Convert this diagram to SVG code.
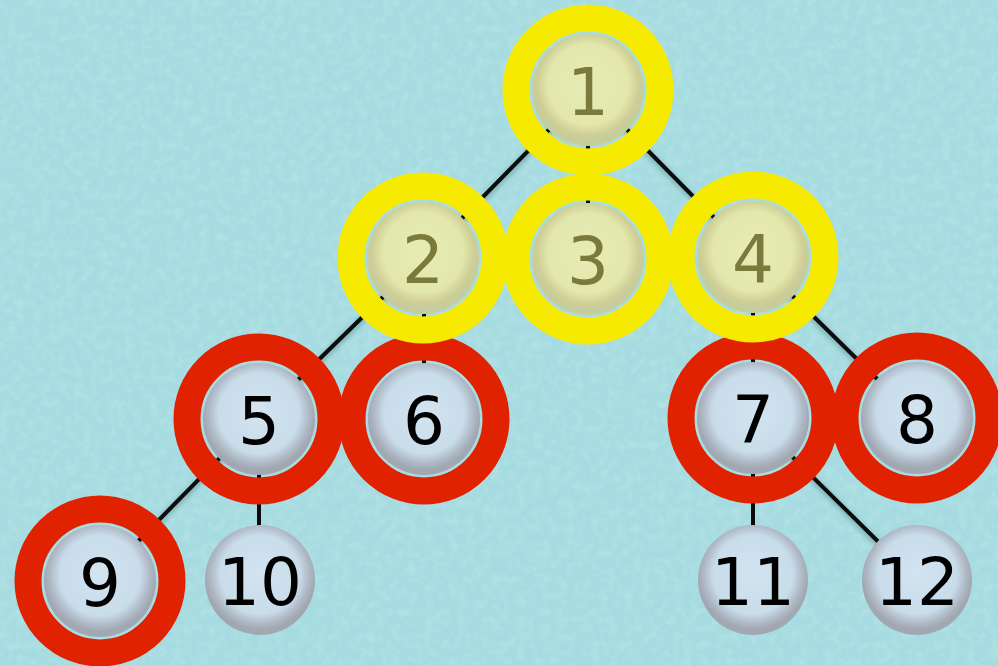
<svg xmlns="http://www.w3.org/2000/svg" width="998" height="666" viewBox="0 0 998 666">
  <defs>
    <filter id="noise" x="0" y="0" width="100%" height="100%">
      <feTurbulence type="fractalNoise" baseFrequency="0.12" numOctaves="3" seed="7" result="t"/>
      <feColorMatrix in="t" type="matrix" values="0 0 0 0 1  0 0 0 0 1  0 0 0 0 1  0 0 0 -1.4 0.8"/>
    </filter>
    <filter id="shadow" x="-20%" y="-20%" width="140%" height="140%">
      <feGaussianBlur stdDeviation="2.5"/>
    </filter>
    <radialGradient id="blueDisk" cx="50%" cy="45%" r="50%">
      <stop offset="0" stop-color="#d2e4f0"/>
      <stop offset="0.72" stop-color="#c9dcea"/>
      <stop offset="0.9" stop-color="#aeb8c4"/>
      <stop offset="1" stop-color="#a2a8b2"/>
    </radialGradient>
    <radialGradient id="yellowDisk" cx="50%" cy="45%" r="50%">
      <stop offset="0" stop-color="#e6ecb4"/>
      <stop offset="0.72" stop-color="#e2e7ac"/>
      <stop offset="0.9" stop-color="#cfcf96"/>
      <stop offset="1" stop-color="#c6cc9c"/>
    </radialGradient>
  </defs>
  <style>
    .disk-b { fill: url(#blueDisk); }
    .disk-y { fill: url(#yellowDisk); }
    .ring-y { fill: none; stroke: #f6eb00; stroke-width: 27; }
    .ring-r { fill: none; stroke: #e02200; stroke-width: 27; }
    .lbl { font-family: "DejaVu Sans", "Liberation Sans", sans-serif; font-size: 66px; text-anchor: middle; }
    .lbl-b { fill: #000000; }
    .lbl-y { fill: #7a7a3c; }
    .edge { stroke: #0c0c0c; stroke-width: 4; stroke-linecap: round; }
    .edge-s { stroke: #2a5a60; stroke-width: 6; opacity: 0.35; filter: url(#shadow); }
  </style>
  <rect x="0" y="0" width="998" height="666" fill="#a6dce1"/>
  <rect x="0" y="0" width="998" height="666" filter="url(#noise)" opacity="0.22"/>

  <g id="connectors">
    <g class="edge-s">
      <line x1="588" y1="92" x2="424" y2="259"/>
      <line x1="588" y1="92" x2="753" y2="259"/>
      <line x1="424" y1="259" x2="259" y2="420"/>
      <line x1="753" y1="259" x2="917" y2="420"/>
      <line x1="259" y1="420" x2="100" y2="582"/>
      <line x1="753" y1="420" x2="917" y2="582"/>
    </g>
    <line class="edge" x1="588" y1="90" x2="424" y2="257"/>
    <line class="edge" x1="588" y1="90" x2="588" y2="257"/>
    <line class="edge" x1="588" y1="90" x2="753" y2="257"/>
    <line class="edge" x1="424" y1="257" x2="259" y2="418"/>
    <line class="edge" x1="424" y1="257" x2="424" y2="418"/>
    <line class="edge" x1="753" y1="257" x2="753" y2="418"/>
    <line class="edge" x1="753" y1="257" x2="917" y2="418"/>
    <line class="edge" x1="259" y1="418" x2="100" y2="580"/>
    <line class="edge" x1="259" y1="418" x2="259" y2="580"/>
    <line class="edge" x1="753" y1="418" x2="753" y2="580"/>
    <line class="edge" x1="753" y1="418" x2="917" y2="580"/>
  </g>

  <g id="node-10">
    <circle class="disk-b" cx="260" cy="580" r="55"/>
    <text class="lbl lbl-b" x="260" y="605">10</text>
  </g>
  <g id="node-11">
    <circle class="disk-b" cx="753" cy="580" r="55"/>
    <text class="lbl lbl-b" x="753" y="605">11</text>
  </g>
  <g id="node-12">
    <circle class="disk-b" cx="917" cy="580" r="55"/>
    <text class="lbl lbl-b" x="917" y="605">12</text>
  </g>
  <g id="node-9">
    <circle class="disk-b" cx="100" cy="581" r="56"/>
    <circle class="ring-r" cx="100" cy="581" r="72"/>
    <text class="lbl lbl-b" x="100" y="606">9</text>
  </g>
  <g id="node-5">
    <circle class="disk-b" cx="259" cy="419" r="56"/>
    <circle class="ring-r" cx="259" cy="419" r="72"/>
    <text class="lbl lbl-b" x="259" y="444">5</text>
  </g>
  <g id="node-6">
    <circle class="disk-b" cx="424" cy="419" r="56"/>
    <circle class="ring-r" cx="424" cy="419" r="72"/>
    <text class="lbl lbl-b" x="424" y="444">6</text>
  </g>
  <g id="node-7">
    <circle class="disk-b" cx="753" cy="418" r="56"/>
    <circle class="ring-r" cx="753" cy="418" r="72"/>
    <text class="lbl lbl-b" x="753" y="443">7</text>
  </g>
  <g id="node-8">
    <circle class="disk-b" cx="917" cy="418" r="56"/>
    <circle class="ring-r" cx="917" cy="418" r="72"/>
    <text class="lbl lbl-b" x="917" y="443">8</text>
  </g>
  <g id="node-2">
    <circle class="disk-y" cx="423" cy="258" r="56"/>
    <circle class="ring-y" cx="423" cy="258" r="72"/>
    <text class="lbl lbl-y" x="423" y="283">2</text>
  </g>
  <g id="node-3">
    <circle class="disk-y" cx="588" cy="259" r="56"/>
    <circle class="ring-y" cx="588" cy="259" r="72"/>
    <text class="lbl lbl-y" x="588" y="284">3</text>
  </g>
  <g id="node-4">
    <circle class="disk-y" cx="753" cy="257" r="56"/>
    <circle class="ring-y" cx="753" cy="257" r="72"/>
    <text class="lbl lbl-y" x="753" y="282">4</text>
  </g>
  <g id="node-1">
    <circle class="disk-y" cx="588" cy="90" r="56"/>
    <circle class="ring-y" cx="588" cy="90" r="72"/>
    <text class="lbl lbl-y" x="588" y="115">1</text>
  </g>
</svg>
